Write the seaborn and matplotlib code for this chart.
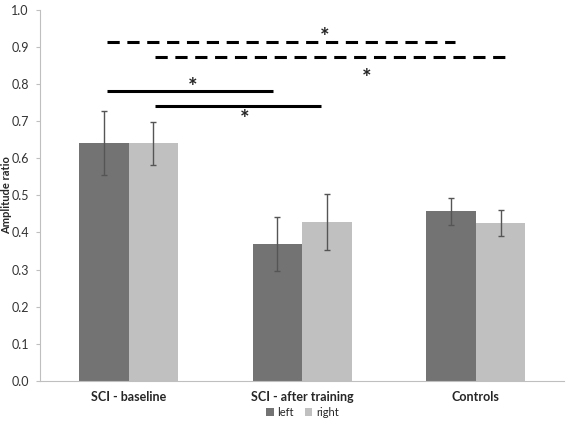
import matplotlib
matplotlib.use("Agg")
import matplotlib.pyplot as plt
import seaborn as sns
import pandas as pd
import numpy as np

categories = ["SCI - baseline", "SCI - after training", "Controls"]
left_vals = [0.641, 0.368, 0.457]
right_vals = [0.641, 0.428, 0.425]
left_err = [0.087, 0.073, 0.037]
right_err = [0.058, 0.075, 0.035]
sides = ["left", "right"]

# significance annotations (x in category units, y in data units)
sig_lines = [(-0.126, 1.88, 0.913, "--"), (0.153, 2.17, 0.872, "--"),
             (-0.126, 0.83, 0.78, "-"), (0.153, 1.107, 0.74, "-")]
sig_stars = [(1.13, 0.925), (1.37, 0.815), (0.37, 0.79), (0.67, 0.705)]

df = pd.DataFrame({
    "group": categories * 2,
    "side": ["left"] * 3 + ["right"] * 3,
    "value": left_vals + right_vals,
    "err": left_err + right_err,
})

sns.set_style("white")
plt.rcParams["font.family"] = ["Lato", "DejaVu Sans"]

fig = plt.figure(figsize=(5.67, 4.28), dpi=100)
ax = fig.add_axes([0.0705, 0.11, 0.925, 0.867])

palette = {"left": "#737373", "right": "#c0c0c0"}
sns.barplot(data=df, x="group", y="value", hue="side", hue_order=sides,
            order=categories, palette=palette, width=0.57, errorbar=None,
            saturation=1, linewidth=0, edgecolor="none", ax=ax)

for cont, side in zip(ax.containers, sides):
    errs = df[df["side"] == side].set_index("group").loc[categories, "err"].values
    xs = [p.get_x() + p.get_width() / 2 for p in cont.patches]
    ys = [p.get_height() for p in cont.patches]
    ax.errorbar(xs, ys, yerr=errs, fmt="none", ecolor="#555555",
                elinewidth=1.0, capsize=2.5, capthick=1.0)

for x0, x1, y, ls in sig_lines:
    ax.plot([x0, x1], [y, y], color="black", lw=2.2, linestyle=ls,
            dashes=(4, 2.5) if ls == "--" else (None, None), solid_capstyle="butt")
for x, y in sig_stars:
    ax.text(x, y, "*", ha="center", va="center", fontsize=16, fontweight="bold")

ax.set_ylim(0, 1.0)
ax.set_xlim(-0.51, 2.51)
ax.set_yticks(np.arange(0, 1.01, 0.1))
ax.set_yticklabels([f"{v:.1f}" for v in np.arange(0, 1.01, 0.1)], fontsize=9, color="#333333")
ax.set_xticks(range(3))
ax.set_xticklabels(categories, fontsize=9, fontweight="bold")
ax.set_xlabel("")
ax.set_ylabel("Amplitude ratio", fontsize=8, fontweight="bold")
ax.yaxis.set_label_coords(-0.053, 0.5)
for s in ["top", "right"]:
    ax.spines[s].set_visible(False)
for s in ["left", "bottom"]:
    ax.spines[s].set_color("#bfbfbf")
ax.tick_params(axis="both", length=0, pad=7)
ax.tick_params(axis="y", length=3, color="#bfbfbf", direction="out", left=True, pad=5)

ax.legend(loc="center", bbox_to_anchor=(0.5, -0.085), ncol=2, frameon=False,
          fontsize=8, handlelength=0.7, handleheight=0.7, handletextpad=0.3,
          columnspacing=1.0, borderpad=0.1)

fig.savefig("out.png", dpi=100)
